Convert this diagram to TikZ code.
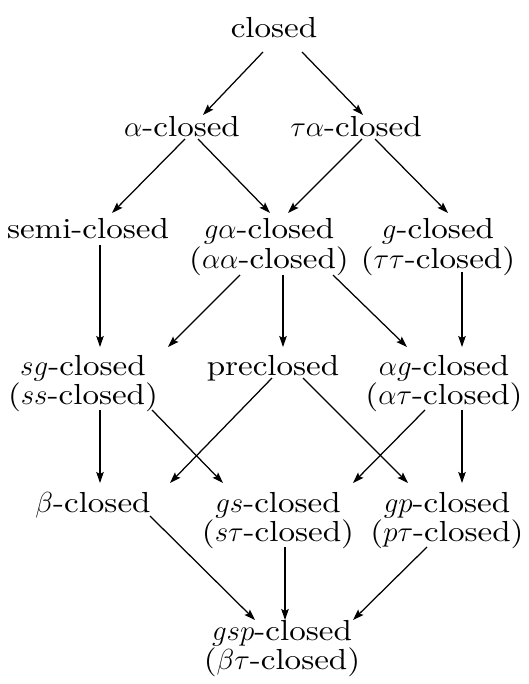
\RequirePackage{fix-cm}
\documentclass[tikz,border=0pt]{standalone}
\usepackage{fontspec}
\setmainfont{lmroman10-regular.otf}[FakeStretch=1.14]
\usetikzlibrary{arrows.meta}
\tikzset{
  lbl/.style={anchor=base, inner sep=0pt, align=center, font=\fontsize{29}{29}\selectfont},
  arr/.style={line width=1.25pt, -{Stealth[length=11pt,width=7.5pt,inset=2pt]}}
}
\begin{document}
\begin{tikzpicture}[x=1pt,y=1pt]
\useasboundingbox (0,0) rectangle (529,-684);
% the lattice of closedness notions (two-line nodes sit on their last baseline)
\node[lbl] (closed) at (274,-38)  {closed};
\node[lbl] (alpha)  at (182,-137) {$\alpha$-closed};
\node[lbl] (talpha) at (356,-137) {$\tau\alpha$-closed};
\node[lbl] (semi)   at (88,-239)  {semi-closed};
\node[lbl] (galpha) at (269,-268) {$g\alpha$-closed\\($\alpha\alpha$-closed)};
\node[lbl] (g)      at (438,-268) {$g$-closed\\($\tau\tau$-closed)};
\node[lbl] (sg)     at (83,-404)  {$sg$-closed\\($ss$-closed)};
\node[lbl] (pre)    at (273,-375) {preclosed};
\node[lbl] (ag)     at (444,-404) {$\alpha g$-closed\\($\alpha\tau$-closed)};
\node[lbl] (beta)   at (93,-512)  {$\beta$-closed};
\node[lbl] (gs)     at (278,-541) {$gs$-closed\\($s\tau$-closed)};
\node[lbl] (gp)     at (447,-541) {$gp$-closed\\($p\tau$-closed)};
\node[lbl] (gsp)    at (282,-669) {$gsp$-closed\\($\beta\tau$-closed)};

% implications
\draw[arr] ([shift={(-11,-14)}]closed.base) -- ([shift={(21,22)}]alpha.base);
\draw[arr] ([shift={(28,-14)}]closed.base) -- ([shift={(7,22)}]talpha.base);
\draw[arr] ([shift={(3,-2)}]alpha.base) -- ([shift={(24,26)}]semi.base);
\draw[arr] ([shift={(16,-2)}]alpha.base) -- ([shift={(1,55)}]galpha.base);
\draw[arr] ([shift={(6,-2)}]talpha.base) -- ([shift={(19,55)}]galpha.base);
\draw[arr] ([shift={(19,-2)}]talpha.base) -- ([shift={(10,55)}]g.base);
\draw[arr] ([shift={(12,-6)}]semi.base) -- ([shift={(17,57)}]sg.base);
\draw[arr] ([shift={(-29,-7)}]galpha.base) -- ([shift={(85,57)}]sg.base);
\draw[arr] ([shift={(14,-7)}]galpha.base) -- ([shift={(10,28)}]pre.base);
\draw[arr] ([shift={(64,-7)}]galpha.base) -- ([shift={(-37,57)}]ag.base);
\draw[arr] ([shift={(24,-4)}]g.base) -- ([shift={(18,57)}]ag.base);
\draw[arr] ([shift={(17,-6)}]sg.base) -- ([shift={(7,29)}]beta.base);
\draw[arr] ([shift={(69,-6)}]sg.base) -- ([shift={(-55,58)}]gs.base);
\draw[arr] ([shift={(-1,-3)}]pre.base) -- ([shift={(77,29)}]beta.base);
\draw[arr] ([shift={(30,-3)}]pre.base) -- ([shift={(-39,58)}]gp.base);
\draw[arr] ([shift={(-19,-6)}]ag.base) -- ([shift={(75,58)}]gs.base);
\draw[arr] ([shift={(18,-6)}]ag.base) -- ([shift={(15,58)}]gp.base);
\draw[arr] ([shift={(57,-4)}]beta.base) -- ([shift={(-27,49)}]gsp.base);
\draw[arr] ([shift={(7,-6)}]gs.base) -- ([shift={(3,49)}]gsp.base);
\draw[arr] ([shift={(-20,-6)}]gp.base) -- ([shift={(71,49)}]gsp.base);
\end{tikzpicture}
\end{document}
